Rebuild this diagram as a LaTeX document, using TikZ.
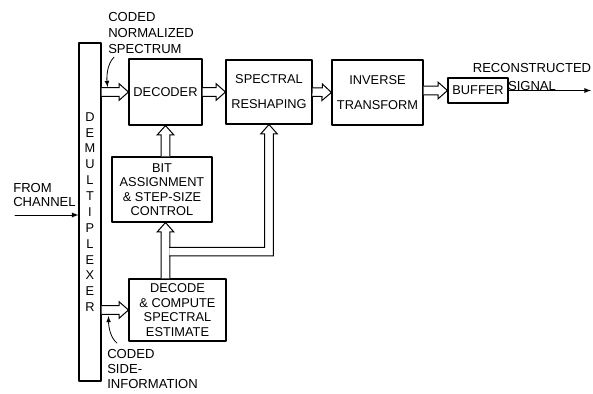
\documentclass[tikz,border=0pt]{standalone}
\usepackage{fontspec}
\setmainfont{Liberation Sans}
\usetikzlibrary{arrows.meta,calc}
\begin{document}
\begin{tikzpicture}[x=0.75pt,y=-0.75pt,line cap=round,line join=round,>=latex,
  font=\fontsize{9.6}{10.9}\selectfont,
  blk/.style={draw,line width=0.8pt,inner sep=0pt,align=center},
  hollow/.style={fill=white,line width=0.75pt,line join=miter,line cap=butt,
    to path={($(\tikztostart)!3.2pt!90:(\tikztotarget)$)
      -- ($(\tikztotarget)!7pt!(\tikztostart)!3.2pt!90:(\tikztotarget)$)
      -- ($(\tikztotarget)!7pt!(\tikztostart)!6.2pt!90:(\tikztotarget)$)
      -- (\tikztotarget)
      -- ($(\tikztotarget)!7pt!(\tikztostart)!6.2pt!-90:(\tikztotarget)$)
      -- ($(\tikztotarget)!7pt!(\tikztostart)!3.2pt!-90:(\tikztotarget)$)
      -- ($(\tikztostart)!3.2pt!-90:(\tikztotarget)$)}},
  lbl/.style={inner sep=0pt,align=left,font=\fontsize{9.8}{11.2}\selectfont}]
  \useasboundingbox (0,0) rectangle (593,393);
  % blocks
  \node[blk,minimum width=16.5pt,minimum height=253.5pt,font=\fontsize{9.6}{11.9}\selectfont] (demux) at (90,212)
    {D\\E\\M\\U\\L\\T\\I\\P\\L\\E\\X\\E\\R};
  \node[blk,minimum width=54.75pt,minimum height=49.5pt] (dec) at (165.5,92) {DECODER};
  \node[blk,minimum width=64.5pt,minimum height=48pt] (spec) at (269,92) {SPECTRAL\\[7.8pt]RESHAPING};
  \node[blk,minimum width=68.25pt,minimum height=48.75pt] (inv) at (377.5,92.5) {INVERSE\\[7.8pt]TRANSFORM};
  \node[blk,minimum width=45pt,minimum height=18.75pt] (buf) at (478,90.5) {BUFFER};
  \node[blk,minimum width=75pt,minimum height=48.75pt] (bit) at (162,189.5) {BIT\\ASSIGNMENT\\\& STEP-SIZE\\CONTROL};
  \node[blk,minimum width=72.75pt,minimum height=46.5pt] (est) at (177.5,310) {DECODE\\\& COMPUTE\\SPECTRAL\\ESTIMATE};
  % labels
  \node[lbl,anchor=west] (lspec) at (108,33) {CODED\\[1pt]NORMALIZED\\[1pt]SPECTRUM};
  \node[lbl,anchor=west] (lside) at (107,369) {CODED\\SIDE-\\INFORMATION};
  \node[lbl,anchor=west] (lin) at (13,195) {FROM\\CHANNEL};
  \node[lbl,align=center] (lout) at (532,77) {RECONSTRUCTED\\[2pt]SIGNAL};
  \coordinate (chan) at (15,215);
  \coordinate (sig) at (591,0);
  \coordinate (jn) at ($(dec.south |- bit.south)!0.52!(dec.south |- est.north)$);
  % hollow arrows
  \draw[hollow] (demux.east |- dec.west) to (dec.west);
  \draw[hollow] (dec.east) to (spec.west);
  \draw[hollow] (spec.east) to (inv.west);
  \draw[hollow] (inv.east |- buf.west) to (buf.west);
  \draw[hollow] (dec.south |- bit.north) to (dec.south);
  \draw[hollow] (dec.south |- est.north) to (dec.south |- bit.south);
  \draw[fill=white,line width=0.75pt,line join=miter] ([xshift=2.9pt,yshift=3.2pt]jn)
    -| ([xshift=-3.2pt,yshift=-7pt]spec.south) -- ([xshift=-6.2pt,yshift=-7pt]spec.south)
    -- (spec.south) -- ([xshift=6.2pt,yshift=-7pt]spec.south) -- ([xshift=3.2pt,yshift=-7pt]spec.south)
    |- ([xshift=2.9pt,yshift=-3.2pt]jn);
  \draw[hollow] (demux.east |- est.west) to (est.west);
  % line arrows
  \draw[line width=0.7pt,->] (chan) -- (chan -| demux.west);
  \draw[line width=0.7pt,->] (buf.east) -- (buf.east -| sig);
  \draw[line width=0.6pt,->] ($(lspec.south west)+(6,3)$) .. controls +(-7,7) and +(-1,-10) .. ($(demux.east |- dec.west)+(6,-5)$);
  \draw[line width=0.6pt,->] ($(lside.north west)+(10,-6)$) .. controls +(-7,-6) and +(0,10) .. ($(demux.east |- est.west)+(7,6)$);
\end{tikzpicture}
\end{document}
